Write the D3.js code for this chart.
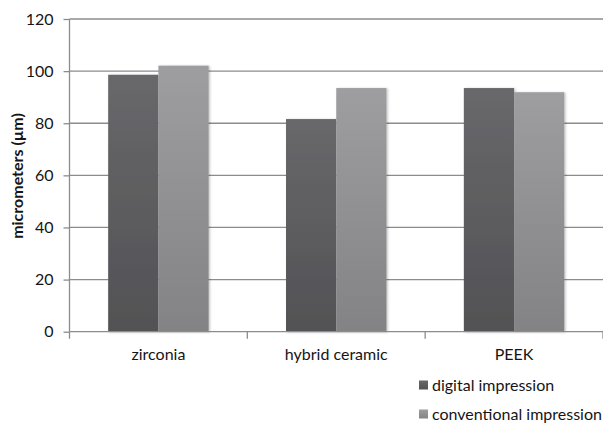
<!DOCTYPE html>
<html><head><meta charset="utf-8">
<script src="https://cdn.jsdelivr.net/npm/d3@7"></script>
<style>body{margin:0;background:#fff}svg{display:block}text{font-family:Lato,sans-serif;fill:#151515}</style>
</head><body><svg id="c" width="603" height="423"></svg>
<script>
const categories = ["zirconia", "hybrid ceramic", "PEEK"];
const seriesNames = ["digital impression", "conventional impression"];
const digital = [98.6, 81.6, 93.5];
const conventional = [102.1, 93.5, 91.9];
const yTicks = [0, 20, 40, 60, 80, 100, 120];

const FS = 16;
const svg = d3.select("#c");
const defs = svg.append("defs");
const grads = [["g0", "#68686b", "#525255"], ["g1", "#9e9ea1", "#838386"]];
grads.forEach(([id, a, b]) => {
  const g = defs.append("linearGradient").attr("id", id).attr("x1", 0).attr("y1", 0).attr("x2", 0).attr("y2", 1);
  g.append("stop").attr("offset", "0%").attr("stop-color", a);
  g.append("stop").attr("offset", "100%").attr("stop-color", b);
});
defs.append("filter").attr("id", "sh").attr("x", "-10%").attr("y", "-10%").attr("width", "130%").attr("height", "130%")
  .append("feDropShadow").attr("dx", 1.2).attr("dy", 0.5).attr("stdDeviation", 1).attr("flood-color", "#000").attr("flood-opacity", 0.25);

const mL = 69.5, mR = 603, mT = 19, mB = 331.7;
const x = d3.scaleBand().domain(categories).range([mL, mR]).paddingInner(0).paddingOuter(0);
const y = d3.scaleLinear().domain([0, 120]).range([mB, mT]);
const inner = d3.scaleBand().domain([0, 1]).range([0, x.bandwidth()]).paddingOuter(0.77).paddingInner(0);

// gridlines
svg.append("g").selectAll("line").data(yTicks.filter(t => t > 0)).join("line")
  .attr("x1", mL).attr("x2", mR).attr("y1", d => y(d)).attr("y2", d => y(d))
  .attr("stroke", "#8c8c8c").attr("stroke-width", 1.3);

const series = [digital, conventional];
const barsG = svg.append("g").attr("filter", "url(#sh)");
series.forEach((vals, si) => {
  barsG.append("g").selectAll("rect").data(vals).join("rect")
    .attr("x", (d, i) => x(categories[i]) + inner(si))
    .attr("width", inner.bandwidth())
    .attr("y", d => y(d)).attr("height", d => y(0) - y(d))
    .attr("fill", `url(#g${si})`);
});

// y axis
const ya = svg.append("g").attr("transform", `translate(${mL},0)`)
  .call(d3.axisLeft(y).tickValues(yTicks).tickSize(6).tickPadding(10));
ya.select(".domain").attr("stroke", "#8c8c8c").attr("stroke-width", 1.3).attr("d", `M-0,${mT}V${mB}`);
ya.selectAll(".tick line").attr("stroke", "#8c8c8c").attr("stroke-width", 1.3);
ya.selectAll(".tick text").attr("font-size", FS).attr("fill", "#151515").style("font-family", "Lato");

// x axis
const xa = svg.append("g").attr("transform", `translate(0,${mB})`)
  .call(d3.axisBottom(x).tickSize(0).tickPadding(17));
xa.select(".domain").attr("stroke", "#8c8c8c").attr("stroke-width", 1.3).attr("d", `M${mL},0H${mR}`);
xa.selectAll(".tick text").attr("font-size", FS).attr("fill", "#151515").style("font-family", "Lato");
const bounds = [mL, ...categories.map(c => x(c) + x.bandwidth())];
svg.append("g").selectAll("line").data(bounds).join("line")
  .attr("x1", d => d).attr("x2", d => d).attr("y1", mB).attr("y2", mB + 7)
  .attr("stroke", "#8c8c8c").attr("stroke-width", 1.3);

// y label
svg.append("text").attr("transform", `translate(23,176) rotate(-90)`)
  .attr("text-anchor", "middle").attr("font-size", FS).attr("font-weight", "bold")
  .text("micrometers (µm)");

// legend
const lg = svg.append("g").selectAll("g").data(seriesNames).join("g")
  .attr("transform", (d, i) => `translate(419,${385 + i * 29})`);
lg.append("rect").attr("x", 0).attr("y", -4.5).attr("width", 9).attr("height", 9)
  .attr("fill", (d, i) => `url(#g${i})`);
lg.append("text").attr("x", 13).attr("y", 0).attr("dy", "0.35em").attr("font-size", FS).text(d => d);
</script></body></html>
